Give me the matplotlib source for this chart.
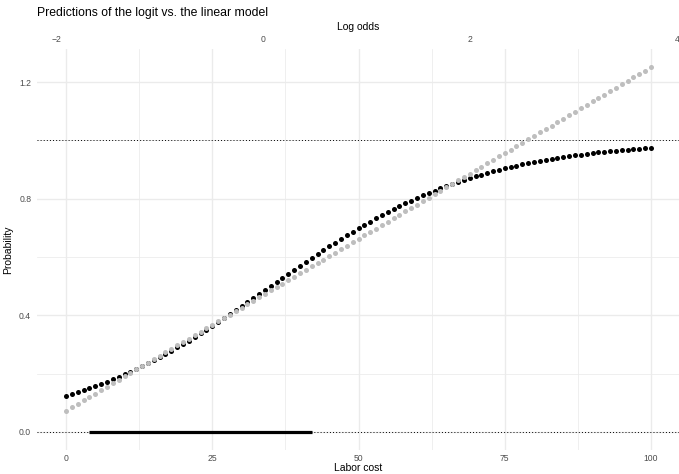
"""Logit vs. linear probability model predictions, ggplot-minimal look."""

import matplotlib
matplotlib.use("Agg")
import matplotlib.pyplot as plt
import numpy as np

plt.rcParams["font.family"] = ["Liberation Sans", "DejaVu Sans"]

# Labor cost grid (one point per unit).
labor_cost = list(range(0, 101))

# Predicted probabilities of the logit model.
logit_prob = [
    0.1235, 0.1297, 0.1361, 0.1428, 0.1498, 0.1571, 0.1647, 0.1725, 0.1806, 0.1891,
    0.1978, 0.2069, 0.2162, 0.2258, 0.2358, 0.2460, 0.2565, 0.2674, 0.2785, 0.2899,
    0.3015, 0.3134, 0.3256, 0.3380, 0.3507, 0.3635, 0.3766, 0.3898, 0.4032, 0.4168,
    0.4305, 0.4442, 0.4581, 0.4720, 0.4860, 0.5000, 0.5140, 0.5280, 0.5419, 0.5558,
    0.5695, 0.5832, 0.5968, 0.6102, 0.6234, 0.6365, 0.6493, 0.6619, 0.6744, 0.6865,
    0.6985, 0.7101, 0.7215, 0.7327, 0.7434, 0.7540, 0.7642, 0.7742, 0.7838, 0.7931,
    0.8022, 0.8109, 0.8193, 0.8275, 0.8354, 0.8429, 0.8502, 0.8572, 0.8639, 0.8703,
    0.8765, 0.8825, 0.8881, 0.8936, 0.8988, 0.9038, 0.9085, 0.9130, 0.9174, 0.9216,
    0.9255, 0.9293, 0.9328, 0.9363, 0.9395, 0.9426, 0.9455, 0.9484, 0.9510, 0.9536,
    0.9560, 0.9583, 0.9605, 0.9626, 0.9645, 0.9664, 0.9681, 0.9698, 0.9714, 0.9729,
    0.9744,
]

# Predicted probabilities of the linear model.
linear_prob = [
    0.0730, 0.0848, 0.0966, 0.1083, 0.1201, 0.1319, 0.1437, 0.1555, 0.1672, 0.1790,
    0.1908, 0.2026, 0.2144, 0.2261, 0.2379, 0.2497, 0.2615, 0.2733, 0.2850, 0.2968,
    0.3086, 0.3204, 0.3322, 0.3439, 0.3557, 0.3675, 0.3793, 0.3911, 0.4028, 0.4146,
    0.4264, 0.4382, 0.4500, 0.4617, 0.4735, 0.4853, 0.4971, 0.5089, 0.5206, 0.5324,
    0.5442, 0.5560, 0.5678, 0.5795, 0.5913, 0.6031, 0.6149, 0.6267, 0.6384, 0.6502,
    0.6620, 0.6738, 0.6856, 0.6973, 0.7091, 0.7209, 0.7327, 0.7445, 0.7562, 0.7680,
    0.7798, 0.7916, 0.8034, 0.8151, 0.8269, 0.8387, 0.8505, 0.8623, 0.8740, 0.8858,
    0.8976, 0.9094, 0.9212, 0.9329, 0.9447, 0.9565, 0.9683, 0.9801, 0.9918, 1.0036,
    1.0154, 1.0272, 1.0390, 1.0507, 1.0625, 1.0743, 1.0861, 1.0979, 1.1096, 1.1214,
    1.1332, 1.1450, 1.1568, 1.1685, 1.1803, 1.1921, 1.2039, 1.2157, 1.2274, 1.2392,
    1.2510,
]

# Observed range of labor cost (thick bar on the x axis).
data_range = [4, 42]

# Log odds axis: log_odds = intercept + slope * labor_cost
log_odds_intercept = -1.91
log_odds_slope = 0.0566
log_odds_ticks = [-2, 0, 2, 4]

x_ticks = [0, 25, 50, 75, 100]
x_minor = [12.5, 37.5, 62.5, 87.5]
y_ticks = [0.0, 0.4, 0.8, 1.2]
y_minor = [0.2, 0.6, 1.0]

GRID = "#EBEBEB"
TICK = "#4D4D4D"


def main():
    fig = plt.figure(figsize=(6.79, 4.74), dpi=100)
    W, H = 679, 474
    left, right, bottom, top = 36.75, 680.25, 450.2, 49.2
    ax = fig.add_axes([left / W, (H - bottom) / H, (right - left) / W, (bottom - top) / H])

    ax.scatter(labor_cost, logit_prob, s=13, color="black", linewidths=0, zorder=3)
    ax.scatter(labor_cost, linear_prob, s=13, color="#BEBEBE", linewidths=0, zorder=4)

    for yv in (0, 1):
        ax.axhline(yv, color="black", linewidth=0.7, linestyle=(0, (1, 2.2)), zorder=2)
    ax.plot(data_range, [0, 0], color="black", linewidth=2.3, solid_capstyle="butt", zorder=5)

    ax.set_xlim(-5, 105)
    ax.set_ylim(-0.0625, 1.3125)
    ax.set_xticks(x_ticks)
    ax.set_xticks(x_minor, minor=True)
    ax.set_yticks(y_ticks)
    ax.set_yticks(y_minor, minor=True)
    ax.set_xticklabels([str(t) for t in x_ticks])
    ax.set_yticklabels([f"{t:.1f}" for t in y_ticks])

    ax.grid(which="major", color=GRID, linewidth=1.0, zorder=0)
    ax.grid(which="minor", color=GRID, linewidth=0.55, zorder=0)
    ax.set_axisbelow(True)
    for s in ax.spines.values():
        s.set_visible(False)
    ax.tick_params(which="both", length=0, labelsize=6.2, labelcolor=TICK)
    ax.tick_params(axis="x", pad=2.5)
    ax.tick_params(axis="y", pad=4)

    ax.set_xlabel("Labor cost", fontsize=7.5, labelpad=0)
    ax.set_ylabel("Probability", fontsize=7.5, labelpad=4)

    sec = ax.secondary_xaxis(
        "top",
        functions=(lambda x: log_odds_intercept + log_odds_slope * x,
                   lambda y: (y - log_odds_intercept) / log_odds_slope),
    )
    sec.set_xticks(log_odds_ticks)
    sec.set_xticklabels(["\u22122", "0", "2", "4"])
    sec.tick_params(length=0, labelsize=6.2, labelcolor=TICK, pad=4)
    sec.spines["top"].set_visible(False)
    sec.set_xlabel("Log odds", fontsize=7.5, labelpad=3)

    fig.text(37 / W, 1 - 13 / H, "Predictions of the logit vs. the linear model",
             fontsize=8.8, ha="left", va="center")

    fig.savefig("out.png", dpi=100)


if __name__ == "__main__":
    main()
